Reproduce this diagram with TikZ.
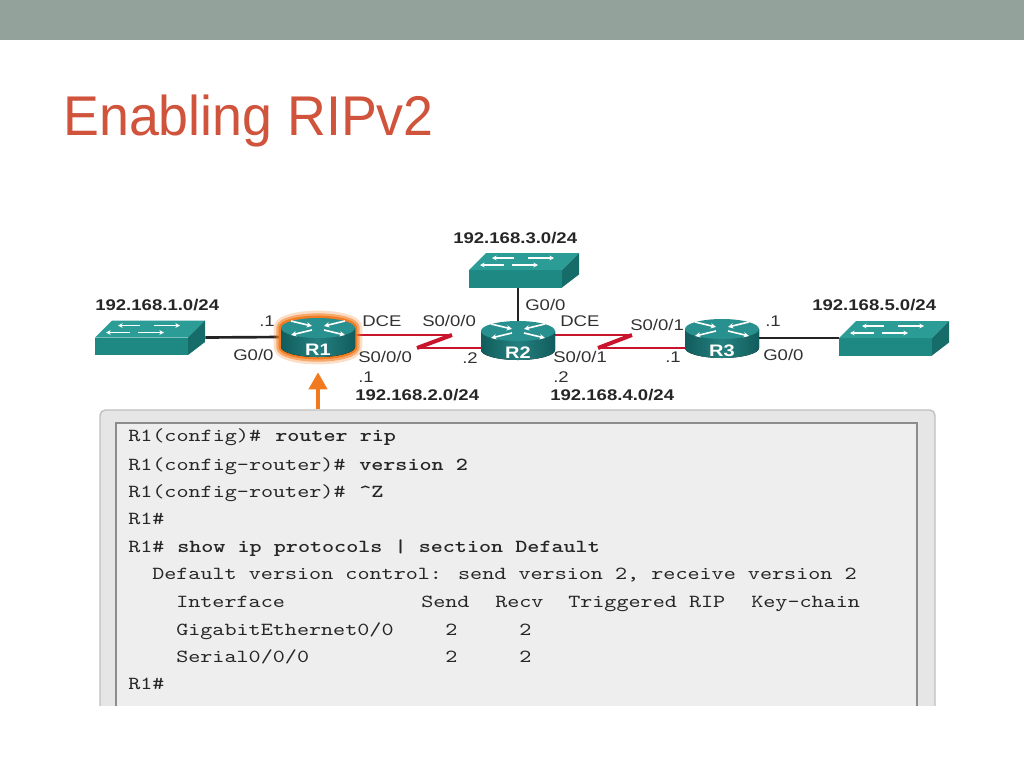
\documentclass[tikz,border=0pt]{standalone}
\usepackage{fontspec}
\setmainfont{Liberation Sans}
\newfontfamily\labelfont[FakeStretch=1.2]{Liberation Sans}
\newfontfamily\titlefont[FakeStretch=0.96]{Liberation Sans}
\newfontfamily\termfont[Extension=.otf, BoldFont=lmmonolt10-bold, FakeStretch=1.25]{lmmono10-regular}
\usetikzlibrary{
    arrows.meta,
    calc,
    positioning
}

\definecolor{bannergray}{RGB}{147,162,154}
\definecolor{titlered}{RGB}{208,83,60}
\definecolor{serialred}{RGB}{200,20,45}
\definecolor{hiorange}{RGB}{242,122,30}
\definecolor{swtop}{RGB}{44,157,150}
\definecolor{swfront}{RGB}{30,137,131}
\definecolor{swside}{RGB}{22,108,104}
\definecolor{rttop}{RGB}{40,144,142}
\definecolor{rtdark}{RGB}{18,92,92}
\definecolor{rtmid}{RGB}{36,128,127}
\definecolor{labelgray}{RGB}{50,50,50}
\definecolor{ethblack}{RGB}{35,35,35}
\definecolor{termfill}{RGB}{238,238,238}
\definecolor{termframe}{RGB}{230,230,230}
\definecolor{termedge}{RGB}{140,140,140}

\tikzset{
    switchbox/.style={inner sep=0pt, minimum width=82.5pt, minimum height=26.25pt},
    routerbox/.style={inner sep=0pt, minimum width=55.5pt, minimum height=28.5pt},
    portlabel/.style={inner sep=0pt, anchor=base west, text=labelgray,
        font=\labelfont\fontsize{11.6}{14}\selectfont},
    netlabel/.style={portlabel, text=black!85,
        font=\labelfont\bfseries\fontsize{11.6}{14}\selectfont},
    routerlabel/.style={inner sep=0pt, anchor=base, text=white,
        font=\labelfont\bfseries\fontsize{12.5}{14}\selectfont},
    ethlink/.style={draw=ethblack, line width=2pt},
    seriallink/.style={draw=serialred, line width=1.4pt},
    serialbolt/.style={draw=serialred, line width=3pt},
    hiarrow/.style={draw=hiorange, line width=3pt,
        -{Triangle[length=12.75pt, width=13.5pt]}},
    termbox/.style={draw=black!25, fill=termframe, line width=1pt, rounded corners=4pt,
        inner sep=0pt, minimum width=626.25pt, minimum height=232.5pt},
    cli/.style={inner sep=0pt, anchor=base west, text=black!85,
        font=\termfont\fontsize{13.8}{17}\selectfont},
    clicmd/.style={cli, font=\termfont\bfseries\fontsize{13.8}{17}\selectfont},
    pics/switch/.style={code={
        \fill[swfront] (-55,0) rectangle (38,17.5);
        \fill[swtop] (-55,0) -- (38,0) -- (55,-17) -- (-38,-17) -- cycle;
        \fill[swside] (38,0) -- (55,-17) -- (55,4.5) -- (38,17.5) -- cycle;
        \foreach \xa/\xb/\yy in {-10/-32/-12, 4/30/-12, -20/-44/-5, -12/14/-5}
            \draw[white, line width=1pt, -{Stealth[length=3.5pt, width=3.5pt]}] (\xa,\yy) -- (\xb,\yy);
    }},
    pics/router/.style={code={
        \fill[left color=rtdark, right color=rtdark, middle color=rtmid]
            (-37,-9) -- (-37,10) arc[start angle=180, end angle=0, x radius=37, y radius=10]
            -- (37,-9) -- cycle;
        \fill[rttop] (0,-9) ellipse [x radius=37, y radius=10];
        \foreach \sx in {-1,1} {
            \draw[white, line width=1.2pt, -{Stealth[length=4pt, width=4pt]}] (\sx*27,-16) -- (\sx*6,-11);
            \draw[white, line width=1.2pt, {Stealth[length=4pt, width=4pt]}-] (\sx*27,-2) -- (\sx*6,-7);
        }
        \node[routerlabel] (name) at (0,18) {#1};
    }},
    pics/glow/.style={code={
        \foreach \w/\o in {11pt/0.25, 7pt/0.55, 3.5pt/0.95}
            \draw[hiorange, line width=\w, opacity=\o, line join=round]
                (-37,-9) arc[start angle=180, end angle=360, x radius=37, y radius=10]
                -- (37,10) arc[start angle=0, end angle=180, x radius=37, y radius=10] -- cycle;
    }}
}

\begin{document}
\begin{tikzpicture}[x=0.75pt, y=-0.75pt]
    \useasboundingbox (0,0) rectangle (1024,768);
    \fill[bannergray] (0,0) rectangle (1024,40);
    \node[anchor=base west, inner sep=0pt, text=titlered,
        font=\titlefont\fontsize{42}{48}\selectfont] (title) at (63,135) {Enabling RIPv2};

    % devices
    \node[switchbox] (lan1) at (150,337.5) {};
    \node[switchbox] (lan3) at (524,270) {};
    \node[switchbox] (lan5) at (894,338) {};
    \node[routerbox] (r1) at (318,337) {};
    \node[routerbox] (r2) at (518,340) {};
    \node[routerbox] (r3) at (722,338) {};
    \coordinate (s1a) at (452,335);
    \coordinate (s1b) at (417,348);
    \coordinate (s2a) at (632,335);
    \coordinate (s2b) at (598,348);

    % links
    \draw[ethlink] (lan1.east) -- (r1.west);
    \draw[ethlink] (r3.east) -- (lan5.west);
    \draw[ethlink] (r2.north) -- (r2.north |- lan3.south);
    \draw[seriallink] (r1.east |- s1a) -- (s1a);
    \draw[serialbolt] (s1a) -- (s1b);
    \draw[seriallink] (s1b) -- (r2.west |- s1b);
    \draw[seriallink] (r2.east |- s2a) -- (s2a);
    \draw[serialbolt] (s2a) -- (s2b);
    \draw[seriallink] (s2b) -- (r3.west |- s2b);

    \pic at (lan1) {switch};
    \pic at (lan3) {switch};
    \pic at (lan5) {switch};
    \pic at (r1) {glow};
    \pic (r1i) at (r1) {router=R1};
    \pic (r2i) at (r2) {router=R2};
    \pic (r3i) at (r3) {router=R3};

    % addressing
    \node[netlabel] (net1) at (95,310) {192.168.1.0/24};
    \node[netlabel] (net3) at (453,243) {192.168.3.0/24};
    \node[netlabel] (net5) at (812,310) {192.168.5.0/24};
    \node[netlabel] (net2) at (355,400) {192.168.2.0/24};
    \node[netlabel] (net4) at (550,400) {192.168.4.0/24};
    \node[portlabel] (p1a) at (259,326) {.1};
    \node[portlabel] (p1b) at (233,360) {G0/0};
    \node[portlabel] (p1c) at (362,326) {DCE};
    \node[portlabel] (p1d) at (358,362) {S0/0/0};
    \node[portlabel] (p1e) at (358,382) {.1};
    \node[portlabel] (p2a) at (422,326) {S0/0/0};
    \node[portlabel] (p2b) at (462,363) {.2};
    \node[portlabel] (p2c) at (525,310) {G0/0};
    \node[portlabel] (p2d) at (560,326) {DCE};
    \node[portlabel] (p2e) at (553,362) {S0/0/1};
    \node[portlabel] (p2f) at (553,382) {.2};
    \node[portlabel] (p3a) at (630,330) {S0/0/1};
    \node[portlabel] (p3b) at (665,362) {.1};
    \node[portlabel] (p3c) at (765,326) {.1};
    \node[portlabel] (p3d) at (763,360) {G0/0};

    % terminal
    \begin{scope}
        \clip (0,0) rectangle (1024,705);
        \node[termbox] (term) at (517.5,565) {};
        \draw[draw=termedge, fill=termfill, line width=1.5pt] (116,423) rectangle (917,720);
    \end{scope}
    \draw[hiarrow] (term.north -| r1) -- ([yshift=-12pt]r1.south);

    \node[cli] (t1) at (128,441) {R1(config)\#};
    \node[clicmd] (t1c) at (275,441) {router rip};
    \node[cli] (t2) at (128,470) {R1(config-router)\#};
    \node[clicmd] (t2c) at (359,470) {version 2};
    \node[cli] (t3) at (128,497) {R1(config-router)\#};
    \node[clicmd] (t3c) at (359,497) {\textasciicircum Z};
    \node[cli] (t4) at (128,524) {R1\#};
    \node[cli] (t5) at (128,552) {R1\#};
    \node[clicmd] (t5c) at (177,552) {show ip protocols | section Default};
    \node[cli] (t6) at (152,579) {Default version control: send version 2, receive version 2};
    \node[cli] (t7a) at (176,607) {Interface};
    \node[cli] (t7b) at (421,607) {Send};
    \node[cli] (t7c) at (495,607) {Recv};
    \node[cli] (t7d) at (568,607) {Triggered RIP};
    \node[cli] (t7e) at (751,607) {Key-chain};
    \node[cli] (t8a) at (176,635) {GigabitEthernet0/0};
    \node[cli] (t8b) at (445,635) {2};
    \node[cli] (t8c) at (519,635) {2};
    \node[cli] (t9a) at (176,662) {Serial0/0/0};
    \node[cli] (t9b) at (445,662) {2};
    \node[cli] (t9c) at (519,662) {2};
    \node[cli] (t10) at (128,689) {R1\#};
\end{tikzpicture}
\end{document}
